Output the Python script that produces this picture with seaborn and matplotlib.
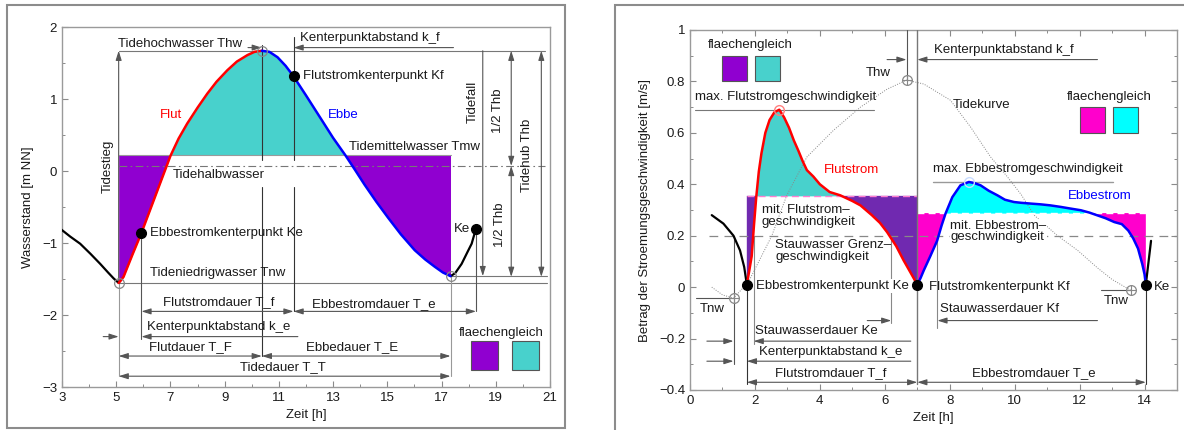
import numpy as np
import matplotlib
matplotlib.use("Agg")
import matplotlib.pyplot as plt
from matplotlib.patches import Rectangle
from matplotlib.ticker import MultipleLocator
import seaborn as sns

# ---------------- water level over one tide (left panel) ----------------
pre_t = [2.93, 3.30, 3.67, 4.05, 4.41, 4.70, 4.90, 5.09]
pre_h = [-0.80, -0.91, -1.01, -1.15, -1.29, -1.41, -1.49, -1.555]
flut_t = [5.09, 5.15, 5.27, 5.60, 5.93, 6.30, 6.65, 7.00, 7.30, 7.62, 8.00,
          8.36, 8.70, 9.10, 9.45, 9.84, 10.10, 10.37]
flut_h = [-1.555, -1.53, -1.47, -1.16, -0.86, -0.49, -0.14, 0.21, 0.45, 0.66,
          0.88, 1.075, 1.24, 1.40, 1.52, 1.61, 1.655, 1.67]
ebbe_t = [10.37, 10.65, 10.95, 11.25, 11.54, 12.00, 12.56, 13.00, 13.45, 13.80,
          14.16, 14.60, 15.03, 15.50, 16.01, 16.40, 16.75, 17.05, 17.33]
ebbe_h = [1.67, 1.655, 1.58, 1.46, 1.315, 1.05, 0.72, 0.46, 0.22, 0.02,
          -0.19, -0.43, -0.65, -0.88, -1.10, -1.23, -1.33, -1.41, -1.46]
post_t = [17.33, 17.50, 17.74, 17.95, 18.11, 18.27]
post_h = [-1.46, -1.42, -1.29, -1.13, -1.01, -0.80]

thw = (10.37, 1.67)          # Tidehochwasser
tnw1 = (5.09, -1.555)        # Tideniedrigwasser (start)
tnw2 = (17.33, -1.46)        # Tideniedrigwasser (end)
kf_left = (11.54, 1.315)     # Flutstromkenterpunkt
ke_left = (5.93, -0.86)      # Ebbestromkenterpunkt
ke2_left = (18.27, -0.80)
tmw = 0.22                   # Tidemittelwasser
thalb = 0.07                 # Tidehalbwasser
left_xticks = [3, 5, 7, 9, 11, 13, 15, 17, 19, 21]

# ---------------- current speed (right panel) ----------------
prev_t = [0.67, 1.03, 1.34, 1.54, 1.67, 1.75]
prev_v = [0.28, 0.247, 0.20, 0.143, 0.078, 0.01]
flood_t = [1.75, 1.82, 1.90, 1.97, 2.04, 2.12, 2.20, 2.32, 2.45, 2.60, 2.75,
           2.90, 3.05, 3.20, 3.34, 3.47, 3.60, 3.80, 4.00, 4.30, 4.63, 5.00,
           5.25, 5.60, 5.85, 6.07, 6.35, 6.58, 6.80, 7.00]
flood_v = [0.01, 0.06, 0.12, 0.24, 0.35, 0.45, 0.52, 0.60, 0.65, 0.68, 0.69,
           0.66, 0.62, 0.57, 0.53, 0.49, 0.455, 0.43, 0.40, 0.37, 0.357, 0.335,
           0.318, 0.28, 0.25, 0.214, 0.16, 0.104, 0.055, 0.01]
ebb_t = [7.00, 7.10, 7.20, 7.40, 7.61, 7.75, 7.87, 8.08, 8.33, 8.59, 8.75,
         8.95, 9.20, 9.47, 9.70, 9.98, 10.20, 10.49, 10.80, 11.10, 11.42,
         11.70, 12.04, 12.30, 12.55, 12.80, 13.07, 13.30, 13.50, 13.65, 13.80,
         13.93, 14.00, 14.04]
ebb_v = [0.01, 0.035, 0.065, 0.12, 0.18, 0.24, 0.286, 0.35, 0.396, 0.409,
         0.405, 0.396, 0.375, 0.357, 0.34, 0.331, 0.328, 0.325, 0.322, 0.318,
         0.312, 0.306, 0.299, 0.29, 0.279, 0.268, 0.253, 0.245, 0.22, 0.19,
         0.15, 0.09, 0.05, 0.01]
next_t = [14.04, 14.20]
next_v = [0.01, 0.18]
tide_t = [0.67, 1.00, 1.34, 1.80, 2.20, 2.52, 2.98, 3.60, 4.42, 5.25, 6.07,
          6.67, 7.20, 8.02, 8.64, 9.26, 9.77, 10.20, 10.60, 11.32, 11.94,
          12.55, 13.00, 13.58]
tide_v = [0.0, -0.03, -0.043, 0.02, 0.12, 0.20, 0.357, 0.506, 0.61, 0.70,
          0.77, 0.805, 0.79, 0.727, 0.623, 0.506, 0.43, 0.36, 0.28, 0.20,
          0.143, 0.075, 0.03, -0.013]

v_flood_mean = 0.355
v_ebb_mean = 0.288
v_slack = 0.20
v_thw = (6.67, 0.805)
v_tnw1 = (1.34, -0.043)
v_tnw2 = (13.58, -0.013)
v_ke1 = (1.75, 0.01)
v_kf = (7.00, 0.01)
v_ke2 = (14.04, 0.01)
v_flood_max = (2.75, 0.69)
v_ebb_max = (8.59, 0.409)
right_xticks = [0, 2, 4, 6, 8, 10, 12, 14]
right_yticks = [-0.4, -0.2, 0, 0.2, 0.4, 0.6, 0.8, 1.0]
right_ylabels = ["−0.4", "−0.2", "0", "0.2", "0.4", "0.6", "0.8", "1"]

PURPLE = "#9000D0"
TEAL = "#48D1CC"
VIOLET = "#7029B0"
MAGENTA = "#FF00CC"
CYAN = "#00FFFF"
LINE = "#555555"
TXT = "#1a1a1a"
FS = 9.5

sns.set_theme(style="white")
plt.rcParams["font.family"] = ["Liberation Sans", "DejaVu Sans"]
plt.rcParams["axes.unicode_minus"] = True

fig = plt.figure(figsize=(11.84, 4.30), dpi=100)
axL = fig.add_axes([62 / 1184, 43 / 430, 488 / 1184, 360 / 430])
axR = fig.add_axes([690 / 1184, 40 / 430, 487 / 1184, 360 / 430])

# panel frames
fig.patches.append(Rectangle((7 / 1184, 2 / 430), 558 / 1184, 423 / 430,
                             transform=fig.transFigure, fill=False,
                             edgecolor="#8c8c8c", lw=1.5))
fig.patches.append(Rectangle((615 / 1184, -0.05), 0.6, 425 / 430 + 0.05,
                             transform=fig.transFigure, fill=False,
                             edgecolor="#8c8c8c", lw=1.5))


def arrow(ax, x0, y0, x1, y1, style="-|>", color=LINE, lw=0.8):
    ax.annotate("", xy=(x1, y1), xytext=(x0, y0),
                arrowprops=dict(arrowstyle=style + ",head_length=0.7,head_width=0.22",
                                color=color, lw=lw, shrinkA=0, shrinkB=0,
                                mutation_scale=8), zorder=4)


def vline(ax, x, y0, y1, color=LINE, lw=0.8, **kw):
    ax.plot([x, x], [y0, y1], color=color, lw=lw, zorder=3, **kw)


def hline(ax, y, x0, x1, color=LINE, lw=0.8, **kw):
    ax.plot([x0, x1], [y, y], color=color, lw=lw, zorder=3, **kw)


def txt(ax, x, y, s, ha="left", va="center", color=TXT, **kw):
    ax.text(x, y, s, ha=ha, va=va, color=color, fontsize=FS, zorder=6, **kw)


def style_axes(ax, all_sides):
    for sp in ax.spines.values():
        sp.set_color("#9a9a9a")
        sp.set_linewidth(1.0)
    ax.tick_params(which="both", direction="in", color="#8a8a8a",
                   labelsize=FS, labelcolor=TXT, top=all_sides, right=all_sides,
                   bottom=True, left=True)
    ax.tick_params(which="major", length=4, width=0.8)
    ax.tick_params(which="minor", length=2.5, width=0.7)


# ======================= left panel =======================
ax = axL
all_t = np.array(flut_t + ebbe_t[1:])
all_h = np.array(flut_h + ebbe_h[1:])
ax.fill_between(flut_t, flut_h, tmw, where=np.array(flut_h) <= tmw,
                interpolate=True, color=PURPLE, lw=0, zorder=1)
ax.fill_between(ebbe_t, ebbe_h, tmw, where=np.array(ebbe_h) <= tmw,
                interpolate=True, color=PURPLE, lw=0, zorder=1)
ax.fill_between(all_t, all_h, tmw, where=all_h >= tmw,
                interpolate=True, color=TEAL, lw=0, zorder=1)
hline(ax, tmw, tnw1[0], tnw2[0], color="#9a9a9a", lw=0.8)

sns.lineplot(x=pre_t, y=pre_h, ax=ax, color="black", lw=1.6, sort=False,
             estimator=None, zorder=5)
sns.lineplot(x=post_t, y=post_h, ax=ax, color="black", lw=1.6, sort=False,
             estimator=None, zorder=5)
sns.lineplot(x=flut_t, y=flut_h, ax=ax, color="red", lw=1.8, sort=False,
             estimator=None, zorder=5)
sns.lineplot(x=ebbe_t, y=ebbe_h, ax=ax, color="blue", lw=1.8, sort=False,
             estimator=None, zorder=5)

# reference levels
hline(ax, thw[1], tnw1[0], 20.82, color="#777777")
hline(ax, tnw1[1], tnw1[0], 20.9, color="#777777")
hline(ax, tnw2[1], tnw2[0], 20.9, color="#777777")
hline(ax, thalb, tnw1[0], 20.82, color="#777777", ls=(0, (7, 3, 1.5, 3)))

# verticals
vline(ax, tnw1[0], tnw1[1], -2.85, color="#999999")
vline(ax, ke_left[0], ke_left[1], -2.33)
vline(ax, thw[0], 1.75, 0.15, color="#333333")
vline(ax, thw[0], -0.22, -2.57, color="#333333")
vline(ax, kf_left[0], 1.86, 0.15, color="#333333")
vline(ax, kf_left[0], -0.22, -1.95, color="#333333")
vline(ax, tnw2[0], tnw2[1], -2.85, color="#999999")
vline(ax, ke2_left[0], ke2_left[1], -1.95)

# rise / fall / range
arrow(ax, tnw1[0], tnw1[1], tnw1[0], thw[1])
arrow(ax, 18.52, thw[1], 18.52, tnw2[1])
arrow(ax, 19.57, thalb, 19.57, thw[1], style="<|-|>")
arrow(ax, 19.57, thalb, 19.57, tnw2[1] - 0.01, style="<|-|>")
arrow(ax, 20.68, thw[1], 20.68, tnw2[1] - 0.01, style="<|-|>")

# durations
arrow(ax, 9.86, 1.714, thw[0], 1.714)
arrow(ax, 17.44, 1.714, kf_left[0], 1.714)
arrow(ax, ke_left[0], -1.95, kf_left[0], -1.95, style="<|-|>")
arrow(ax, kf_left[0], -1.95, ke2_left[0], -1.95, style="<|-|>")
arrow(ax, 4.52, -2.30, tnw1[0], -2.30)
arrow(ax, 11.7, -2.30, ke_left[0], -2.30)
arrow(ax, tnw1[0], -2.57, thw[0], -2.57, style="<|-|>")
arrow(ax, thw[0], -2.57, tnw2[0], -2.57, style="<|-|>")
arrow(ax, tnw1[0], -2.85, tnw2[0], -2.85, style="<|-|>")

# markers
for p in (thw, tnw1, tnw2):
    ax.plot(*p, marker="o", ms=7, mfc="none", mec="#888888", mew=0.9, zorder=7)
for p in (kf_left, ke_left, ke2_left):
    ax.plot(*p, marker="o", ms=7, color="black", zorder=7)

# labels
txt(ax, 7.37, 1.77, "Tidehochwasser Thw", ha="center")
txt(ax, 14.37, 1.85, "Kenterpunktabstand k_f", ha="center")
txt(ax, 11.88, kf_left[1], "Flutstromkenterpunkt Kf")
txt(ax, 7.02, 0.78, "Flut", ha="center", color="red")
txt(ax, 13.38, 0.78, "Ebbe", ha="center", color="blue")
txt(ax, 16.0, 0.33, "Tidemittelwasser Tmw", ha="center")
txt(ax, 8.77, -0.05, "Tidehalbwasser", ha="center")
txt(ax, 4.70, 0.06, "Tidestieg", ha="center", rotation=90)
txt(ax, 18.15, 0.96, "Tidefall", ha="center", rotation=90)
txt(ax, 19.09, 0.83, "1/2 Thb", ha="center", rotation=90)
txt(ax, 19.16, -0.74, "1/2 Thb", ha="center", rotation=90)
txt(ax, 20.16, 0.22, "Tidehub Thb", ha="center", rotation=90)
txt(ax, 6.25, ke_left[1], "Ebbestromkenterpunkt Ke")
txt(ax, 17.44, ke2_left[1], "Ke")
txt(ax, 8.76, -1.42, "Tideniedrigwasser Tnw", ha="center")
txt(ax, 8.77, -1.82, "Flutstromdauer T_f", ha="center")
txt(ax, 14.51, -1.855, "Ebbestromdauer T_e", ha="center")
txt(ax, 8.77, -2.17, "Kenterpunktabstand k_e", ha="center")
txt(ax, 7.75, -2.45, "Flutdauer T_F", ha="center")
txt(ax, 13.69, -2.45, "Ebbedauer T_E", ha="center")
txt(ax, 11.14, -2.72, "Tidedauer T_T", ha="center")
txt(ax, 19.22, -2.25, "flaechengleich", ha="center")
ax.add_patch(Rectangle((18.1, -2.76), 1.0, 0.40, facecolor=PURPLE,
                       edgecolor="#555555", lw=0.8, zorder=5))
ax.add_patch(Rectangle((19.6, -2.76), 1.0, 0.40, facecolor=TEAL,
                       edgecolor="#555555", lw=0.8, zorder=5))

ax.set_xlim(3, 21)
ax.set_ylim(-3, 2)
ax.set_xticks(left_xticks)
ax.xaxis.set_minor_locator(MultipleLocator(1))
ax.yaxis.set_major_locator(MultipleLocator(1))
ax.yaxis.set_minor_locator(MultipleLocator(0.5))
ax.set_xlabel("Zeit [h]", fontsize=FS, color=TXT, labelpad=4)
ax.set_ylabel("Wasserstand [m NN]", fontsize=FS, color=TXT, labelpad=6)
style_axes(ax, False)

# ======================= right panel =======================
ax = axR
ft = np.array(flood_t)
fv = np.array(flood_v)
et = np.array(ebb_t)
ev = np.array(ebb_v)
ax.fill_between(ft, fv, v_flood_mean, where=fv <= v_flood_mean,
                interpolate=True, color=VIOLET, lw=0, zorder=1)
ax.fill_between(ft, fv, v_flood_mean, where=fv >= v_flood_mean,
                interpolate=True, color=TEAL, lw=0, zorder=1)
ax.fill_between(et, ev, v_ebb_mean, where=ev <= v_ebb_mean,
                interpolate=True, color=MAGENTA, lw=0, zorder=1)
ax.fill_between(et, ev, v_ebb_mean, where=ev >= v_ebb_mean,
                interpolate=True, color=CYAN, lw=0, zorder=1)
hline(ax, v_flood_mean, v_ke1[0], v_kf[0], color="#FF7FD0", lw=1.0, ls=(0, (5, 3)))
hline(ax, v_ebb_mean, v_kf[0], v_ke2[0], color="#FFFFFF", lw=1.0, ls=(0, (5, 3)))

sns.lineplot(x=tide_t, y=tide_v, ax=ax, color="#888888", lw=0.7, sort=False,
             estimator=None, ls=(0, (1, 1.5)), zorder=2)
hline(ax, v_slack, 0.6, 15, color="#888888", lw=0.9, ls=(0, (7, 5)))

sns.lineplot(x=prev_t, y=prev_v, ax=ax, color="black", lw=1.6, sort=False,
             estimator=None, zorder=5)
sns.lineplot(x=next_t, y=next_v, ax=ax, color="black", lw=1.6, sort=False,
             estimator=None, zorder=5)
sns.lineplot(x=flood_t, y=flood_v, ax=ax, color="red", lw=1.8, sort=False,
             estimator=None, zorder=5)
sns.lineplot(x=ebb_t, y=ebb_v, ax=ax, color="blue", lw=1.8, sort=False,
             estimator=None, zorder=5)

# verticals
vline(ax, v_tnw1[0], 0.20, -0.30)
vline(ax, v_ke1[0], v_ke1[1], -0.375, color="#333333")
vline(ax, 1.96, 0.20, -0.22, color="#888888")
vline(ax, 6.20, 0.20, -0.14, color="#888888")
vline(ax, 7.62, 0.20, -0.16, color="#888888")
vline(ax, v_thw[0], 1.0, v_thw[1], color="#555555")
vline(ax, v_kf[0], 1.0, -0.375, color="#777777", lw=1.0)
vline(ax, v_ke2[0], v_ke2[1], -0.375, color="#333333")

# reference lines
hline(ax, v_flood_max[1], 0.15, 5.66, color="#777777")
hline(ax, v_ebb_max[1], 7.49, 13.04, color="#999999", lw=1.0)
hline(ax, v_tnw1[1], 0.2, v_tnw1[0])
hline(ax, v_tnw2[1], 12.65, v_tnw2[0])

# durations
arrow(ax, 6.07, 0.885, v_thw[0], 0.885)
arrow(ax, 12.55, 0.885, v_kf[0], 0.885)
arrow(ax, 5.46, -0.13, 6.20, -0.13)
arrow(ax, 12.55, -0.13, 7.62, -0.13)
arrow(ax, 0.52, -0.21, v_tnw1[0], -0.21)
arrow(ax, 6.80, -0.21, 1.96, -0.21)
arrow(ax, 0.52, -0.288, v_tnw1[0], -0.288)
arrow(ax, 6.80, -0.288, v_ke1[0], -0.288)
arrow(ax, v_ke1[0], -0.37, v_kf[0], -0.37, style="<|-|>")
arrow(ax, v_kf[0], -0.37, v_ke2[0], -0.37, style="<|-|>")

# markers
for p in (v_thw, v_tnw1, v_tnw2):
    ax.plot(*p, marker="o", ms=7, mfc="none", mec="#888888", mew=0.9, zorder=7)
    ax.plot(*p, marker="+", ms=7, color="#888888", mew=0.8, zorder=7)
ax.plot(*v_flood_max, marker="o", ms=7, mfc="none", mec="#ff8080", mew=1.0, zorder=7)
ax.plot(*v_ebb_max, marker="o", ms=7, mfc="none", mec="#c8dcff", mew=1.0, zorder=7)
for p in (v_ke1, v_kf, v_ke2):
    ax.plot(*p, marker="o", ms=7, color="black", zorder=7)

# labels
txt(ax, 1.85, 0.94, "flaechengleich", ha="center")
ax.add_patch(Rectangle((1.0, 0.80), 0.75, 0.099, facecolor=PURPLE,
                       edgecolor="#555555", lw=0.8, zorder=5))
ax.add_patch(Rectangle((2.0, 0.80), 0.76, 0.099, facecolor=TEAL,
                       edgecolor="#555555", lw=0.8, zorder=5))
txt(ax, 12.91, 0.738, "flaechengleich", ha="center")
ax.add_patch(Rectangle((12.02, 0.598), 0.76, 0.102, facecolor=MAGENTA,
                       edgecolor="#555555", lw=0.8, zorder=5))
ax.add_patch(Rectangle((13.03, 0.598), 0.76, 0.102, facecolor=CYAN,
                       edgecolor="#555555", lw=0.8, zorder=5))
txt(ax, 0.15, 0.74, "max. Flutstromgeschwindigkeit")
txt(ax, 5.80, 0.834, "Thw", ha="center")
txt(ax, 7.51, 0.922, "Kenterpunktabstand k_f")
txt(ax, 8.08, 0.708, "Tidekurve")
txt(ax, 7.49, 0.461, "max. Ebbestromgeschwindigkeit")
txt(ax, 4.11, 0.457, "Flutstrom", color="red")
txt(ax, 11.63, 0.353, "Ebbestrom", color="blue")
txt(ax, 2.21, 0.277, "mit. Flutstrom–\ngeschwindigkeit", linespacing=0.95)
txt(ax, 2.62, 0.14, "Stauwasser Grenz–\ngeschwindigkeit", linespacing=0.95)
txt(ax, 8.02, 0.217, "mit. Ebbestrom–\ngeschwindigkeit", linespacing=0.95,
    bbox=dict(facecolor="white", edgecolor="none", pad=0.5))
txt(ax, 2.04, 0.005, "Ebbestromkenterpunkt Ke",
    bbox=dict(facecolor="white", edgecolor="none", pad=0.5))
txt(ax, 7.36, 0.0, "Flutstromkenterpunkt Kf")
txt(ax, 14.3, 0.0, "Ke")
txt(ax, 0.69, -0.084, "Tnw", ha="center")
txt(ax, 13.12, -0.055, "Tnw", ha="center")
txt(ax, 2.0, -0.169, "Stauwasserdauer Ke")
txt(ax, 2.14, -0.253, "Kenterpunktabstand k_e")
txt(ax, 7.69, -0.084, "Stauwasserdauer Kf")
txt(ax, 4.35, -0.334, "Flutstromdauer T_f", ha="center")
txt(ax, 10.6, -0.334, "Ebbestromdauer T_e", ha="center")

ax.set_xlim(0, 15)
ax.set_ylim(-0.4, 1.0)
ax.set_xticks(right_xticks)
ax.xaxis.set_minor_locator(MultipleLocator(1))
ax.set_yticks(right_yticks)
ax.set_yticklabels(right_ylabels)
ax.yaxis.set_minor_locator(MultipleLocator(0.1))
ax.set_xlabel("Zeit [h]", fontsize=FS, color=TXT, labelpad=4)
ax.set_ylabel("Betrag der Stroemungsgeschwindigkeit [m/s]", fontsize=FS,
              color=TXT, labelpad=6)
style_axes(ax, True)

fig.savefig("out.png", dpi=100)
